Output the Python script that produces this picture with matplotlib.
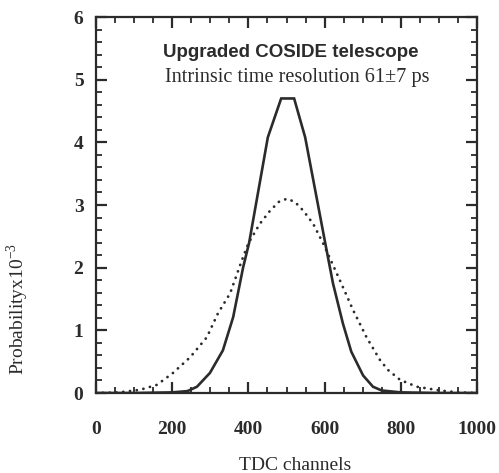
import matplotlib
matplotlib.use("Agg")
import matplotlib.pyplot as plt
from matplotlib.ticker import MultipleLocator

# solid curve: upgraded telescope response
solid_x = [0, 100, 200, 240, 265, 299, 333, 360, 386, 402, 451, 486, 520, 549, 603,
           622, 648, 670, 701, 727, 750, 800, 900, 1000]
solid_y = [0, 0, 0.01, 0.03, 0.1, 0.32, 0.68, 1.21, 2.0, 2.4, 4.08, 4.70, 4.70, 4.08,
           2.35, 1.75, 1.11, 0.66, 0.28, 0.1, 0.04, 0.01, 0, 0]

# dotted curve
dot_x = [0, 60, 115, 160, 202, 247, 291, 320, 352, 383, 400, 430, 457, 480, 501, 522,
         544, 570, 596, 640, 675, 710, 745, 766, 798, 842, 903, 950, 1000]
dot_y = [0, 0.01, 0.05, 0.13, 0.32, 0.57, 0.89, 1.27, 1.59, 2.12, 2.39, 2.70, 2.91,
         3.05, 3.10, 3.05, 2.91, 2.70, 2.39, 1.8, 1.32, 0.89, 0.53, 0.37, 0.21, 0.10,
         0.04, 0.01, 0]

ink = '#2b2b2b'
serif = ['Liberation Serif', 'DejaVu Serif']

fig = plt.figure(figsize=(4.99, 4.73), dpi=100)
ax = fig.add_axes([96 / 499, 80 / 473, 381 / 499, 376 / 473])

ax.plot(solid_x, solid_y, color=ink, lw=1.9, solid_joinstyle='miter')
ax.plot(dot_x, dot_y, color=ink, lw=2.0, linestyle=(0, (0.05, 2.4)),
        dash_capstyle='round')

ax.set_xlim(0, 1000)
ax.set_ylim(0, 6)
ax.xaxis.set_major_locator(MultipleLocator(200))
ax.xaxis.set_minor_locator(MultipleLocator(50))
ax.yaxis.set_major_locator(MultipleLocator(1))
ax.yaxis.set_minor_locator(MultipleLocator(0.2))
ax.tick_params(which='both', direction='in', top=True, right=True, color=ink)
ax.tick_params(which='major', length=8, width=1.6)
ax.tick_params(which='minor', length=4.5, width=1.3)
ax.tick_params(axis='x', pad=20)
ax.tick_params(axis='y', pad=9)
for s in ax.spines.values():
    s.set_linewidth(1.6)
    s.set_color(ink)

for lab in ax.get_xticklabels() + ax.get_yticklabels():
    lab.set_family(serif)
    lab.set_fontweight('bold')
    lab.set_fontsize(14)
    lab.set_color(ink)

ax.text(0.51, 0.905, 'Upgraded COSIDE telescope', transform=ax.transAxes,
        ha='center', va='center', fontsize=13.5, fontweight='bold',
        family=['Liberation Sans', 'DejaVu Sans'], color=ink)
ax.text(0.527, 0.84, 'Intrinsic time resolution 61\u00b17 ps', transform=ax.transAxes,
        ha='center', va='center', fontsize=14.6, family=serif, color=ink)

fig.text(18 / 499, 1 - 309 / 473, r'Probabilityx10$^{\mathregular{-3}}$', rotation=90,
         ha='center', va='center', fontsize=14, family=serif, color=ink)
fig.text(295 / 499, 1 - 465 / 473, 'TDC channels', ha='center', va='center',
         fontsize=14, family=serif, color=ink)

fig.savefig('out.png', dpi=100)
